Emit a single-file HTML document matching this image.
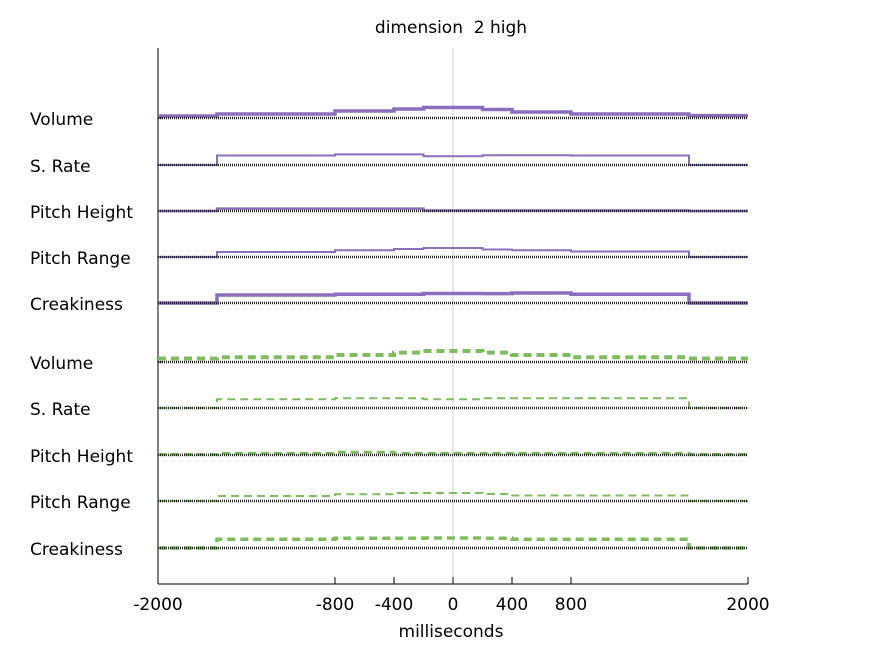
<!DOCTYPE html>
<html><head><meta charset="utf-8"><style>
body{margin:0;background:#fff;}
svg{display:block;font-family:"DejaVu Sans","Liberation Sans",sans-serif;}
</style></head><body>
<svg id="chart" width="875" height="656" viewBox="0 0 875 656">
<text x="451" y="33" font-size="17" text-anchor="middle" xml:space="preserve" style="white-space:pre">dimension  2 high</text>
<g id="plot"></g>
<text x="451" y="637" font-size="17" text-anchor="middle">milliseconds</text>
</svg>
<script>
const edges = [-2000,-1600,-800,-400,-200,200,400,800,1600,2000];
const tickLabels = [-2000,-800,-400,0,400,800,2000];
const rowLabels = ["Volume","S. Rate","Pitch Height","Pitch Range","Creakiness"];
// values = height above baseline (units) for each segment between edges
const purpleVolume = [2,4,7,9,10.5,8.5,6,4,2.4];
const purpleRate = [0,9.5,10.6,10.6,8.7,9.8,9.8,9.5,0];
const purplePitchH = [0,2.4,2.4,2.4,0.5,0.5,0.5,0.5,0];
const purplePitchR = [0,5,6.7,8,9,7.5,6.7,5.5,0];
const purpleCreak = [0,8,8.7,8.7,9.5,9.4,10,8.7,0];
const greenVolume = [3.5,4.7,7,9.4,11,9.4,7,4.7,3.5];
const greenRate = [0,8.7,9.8,9.8,8.7,9.8,9.8,9.8,0];
const greenPitchH = [0.5,1.6,2.7,1.6,1.6,1.6,1.6,1.6,0.5];
const greenPitchR = [0,5,6.7,8,8,7,5.5,5.5,0];
const greenCreak = [0,8.7,9.8,9.8,10,9.8,8.7,8.7,0];

const NS="http://www.w3.org/2000/svg";
const g=document.getElementById('plot');
const x0=158,x1=748,yTop=48,yBot=584;
const xs=v=>x0+(v+2000)/4000*(x1-x0);
const ys=(base,v)=>base-v;
function mk(t,a){const e=document.createElementNS(NS,t);for(const k in a)e.setAttribute(k,a[k]);g.appendChild(e);return e;}

let z=mk('line',{x1:xs(0),x2:xs(0),y1:yTop,y2:yBot,stroke:'#ccc','stroke-width':1});


let ya=mk('line',{x1:x0,x2:x0,y1:yTop,y2:yBot,stroke:'#000','stroke-width':1});


let xa=mk('line',{x1:x0,x2:x1,y1:yBot,y2:yBot,stroke:'#000','stroke-width':1});


tickLabels.forEach(t=>{
  let tk=mk('line',{x1:xs(t),x2:xs(t),y1:yBot,y2:yBot-7,stroke:'#000','stroke-width':1});
  
  
  let tl=mk('text',{x:xs(t),y:610,'font-size':17,'text-anchor':'middle'});
  tl.textContent=t;
  
  
});

const bases=[118,165,211,257,303,362,408,455,501,548];
const series=[
 {d:purpleVolume,c:'#8b6fbd',w:3.5,dash:null},
 {d:purpleRate,c:'#8b6fbd',w:2,dash:null},
 {d:purplePitchH,c:'#8b6fbd',w:2.5,dash:null},
 {d:purplePitchR,c:'#8b6fbd',w:2,dash:null},
 {d:purpleCreak,c:'#8b6fbd',w:3.5,dash:null},
 {d:greenVolume,c:'#7dbd5c',w:4,dash:'8,5'},
 {d:greenRate,c:'#7dbd5c',w:2,dash:'8,5'},
 {d:greenPitchH,c:'#7dbd5c',w:3,dash:'8,5'},
 {d:greenPitchR,c:'#7dbd5c',w:2,dash:'8,5'},
 {d:greenCreak,c:'#7dbd5c',w:3.5,dash:'8,5'}
];
bases.forEach((b,i)=>{
  let lab=mk('text',{x:30,y:b+7,'font-size':17});
  lab.textContent=rowLabels[i%5];
  
  
  let tk=mk('line',{x1:x0,x2:x0+4,y1:b,y2:b,stroke:'#000','stroke-width':1});
  
  
  const s=series[i];
  let pts=[];
  s.d.forEach((v,k)=>{pts.push(xs(edges[k])+','+ys(b,v));pts.push(xs(edges[k+1])+','+ys(b,v));});
  let pl=mk('polyline',{points:pts.join(' '),fill:'none',stroke:s.c,'stroke-width':s.w});
  if(s.dash)pl.setAttribute('stroke-dasharray',s.dash);
  
  
  let bl=mk('line',{x1:x0,x2:x1,y1:b,y2:b,stroke:'#222','stroke-width':2.5,'stroke-dasharray':'1,1'});
  
  
});
</script>
</body></html>
